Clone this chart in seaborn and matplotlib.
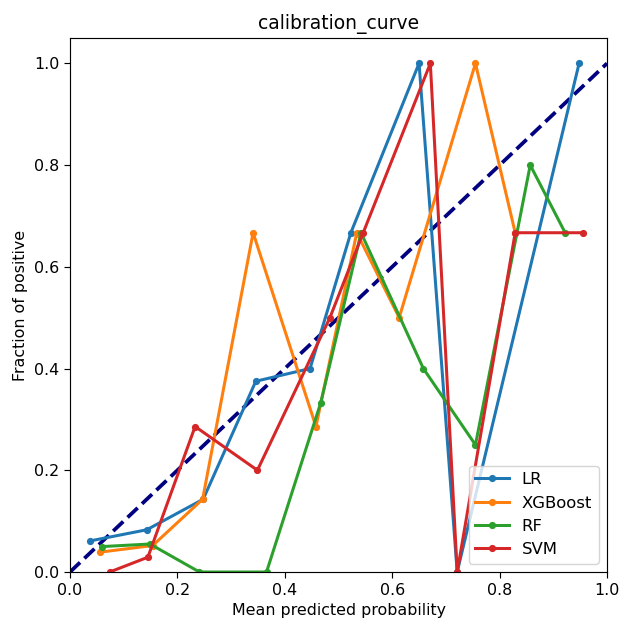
import numpy as np
import pandas as pd
import matplotlib
matplotlib.use("Agg")
import matplotlib.pyplot as plt
import seaborn as sns

lr_x = [0.037, 0.143, 0.248, 0.346, 0.447, 0.523, 0.650, 0.721, 0.948]
lr_y = [0.061, 0.083, 0.143, 0.375, 0.400, 0.667, 1.000, 0.000, 1.000]

xgb_x = [0.056, 0.154, 0.247, 0.341, 0.458, 0.534, 0.613, 0.755, 0.829]
xgb_y = [0.039, 0.052, 0.143, 0.667, 0.286, 0.667, 0.500, 1.000, 0.667]

rf_x = [0.060, 0.149, 0.241, 0.366, 0.467, 0.542, 0.658, 0.755, 0.857, 0.922]
rf_y = [0.050, 0.055, 0.000, 0.000, 0.333, 0.667, 0.400, 0.250, 0.800, 0.667]

svm_x = [0.074, 0.145, 0.233, 0.349, 0.484, 0.546, 0.671, 0.721, 0.829, 0.956]
svm_y = [0.000, 0.029, 0.286, 0.200, 0.500, 0.667, 1.000, 0.000, 0.667, 0.667]

models = ["LR", "XGBoost", "RF", "SVM"]
series = {"LR": (lr_x, lr_y), "XGBoost": (xgb_x, xgb_y), "RF": (rf_x, rf_y), "SVM": (svm_x, svm_y)}

rows = []
for m in models:
    xs, ys = series[m]
    for i, (a, b) in enumerate(zip(xs, ys)):
        rows.append({"model": m, "order": i, "pred": a, "frac": b})
df = pd.DataFrame(rows)

plt.rcParams.update({"font.size": 11, "xtick.labelsize": 11, "ytick.labelsize": 11,
                     "axes.labelsize": 11, "axes.titlesize": 13,
                     "xtick.major.size": 3.9, "ytick.major.size": 3.9})

fig = plt.figure(figsize=(6, 6), dpi=103.67)
ax = fig.add_axes([0.1125, 0.0804, 0.8634, 0.8586])

ax.plot([0, 1], [0, 1], linestyle="--", color="navy", lw=2.6)

palette = dict(zip(models, sns.color_palette("tab10", 4)))
for m in models:
    sub = df[df.model == m]
    sns.lineplot(data=sub, x="pred", y="frac", sort=False, marker="o", markersize=5,
                 markeredgewidth=0, lw=2.1, color=palette[m], label=m, ax=ax, estimator=None)

ax.set_xlim(0, 1)
ax.set_ylim(0, 1.05)
ax.set_xticks([0, 0.2, 0.4, 0.6, 0.8, 1.0])
ax.set_yticks([0, 0.2, 0.4, 0.6, 0.8, 1.0])
ax.set_xlabel("Mean predicted probability")
ax.set_ylabel("Fraction of positive")
ax.set_title("calibration_curve")
ax.legend(loc="lower right", fontsize=11.5)

fig.savefig("out.png", dpi=103.67)
